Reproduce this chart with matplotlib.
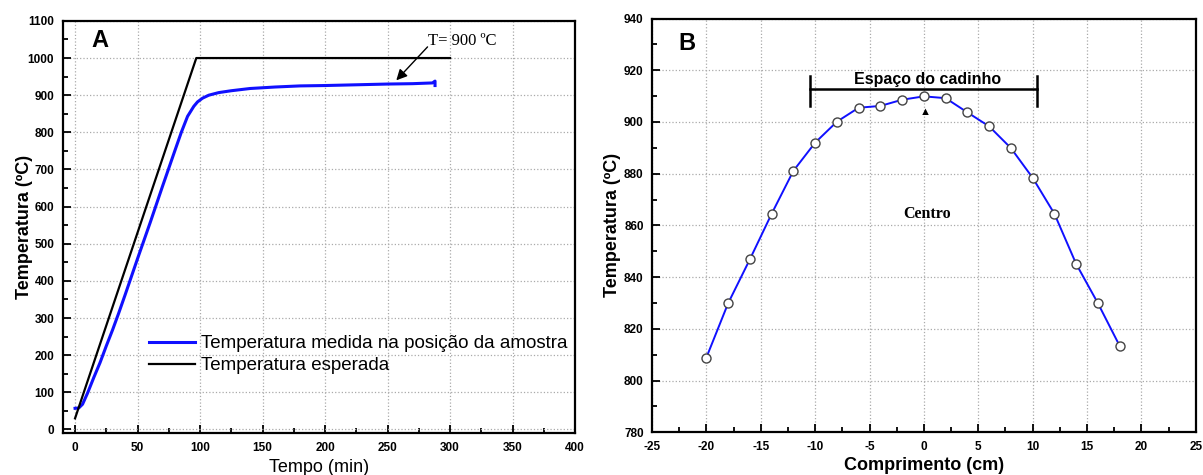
import numpy as np
import matplotlib
matplotlib.use("Agg")
import matplotlib.pyplot as plt
from matplotlib.ticker import MultipleLocator

plt.rcParams['font.family'] = ['Liberation Sans', 'DejaVu Sans']
plt.rcParams['axes.unicode_minus'] = False

# panel A: temperature vs time
t_expected = [0, 97, 300]
T_expected = [30, 1000, 1000]

t_measured = [0, 3, 6, 10, 15, 20, 25, 30, 35, 40, 50, 60, 70, 80, 85, 90, 95,
              98, 102, 107, 115, 125, 140, 160, 180, 200, 225, 250, 270, 286, 288, 288]
T_measured = [57, 58, 68, 98, 140, 180, 225, 268, 314, 362, 460, 556, 655, 752, 800, 843, 870,
              882, 892, 900, 907, 912, 918, 922, 925, 926, 928, 930, 931, 933, 938, 926]

# panel B: temperature profile along the furnace
pos = [-20, -18, -16, -14, -12, -10, -8, -6, -4, -2, 0, 2, 4, 6, 8, 10, 12, 14, 16, 18]
temp = [808.9, 829.9, 846.9, 864.5, 881.1, 892.0, 900.1, 905.5, 906.2, 908.6,
        909.9, 909.2, 903.7, 898.3, 889.9, 878.4, 864.5, 845.1, 829.9, 813.4]

fig = plt.figure(figsize=(12.03, 4.75), dpi=100)
ax1 = fig.add_axes([0.052, 0.088, 0.426, 0.868])
ax2 = fig.add_axes([0.542, 0.090, 0.452, 0.871])


def style(ax):
    for s in ax.spines.values():
        s.set_linewidth(1.6)
    ax.tick_params(which='both', direction='in', top=False, right=False, width=1.3)
    ax.tick_params(which='major', length=6, labelsize=8.5, pad=6)
    ax.tick_params(which='minor', length=3.5)
    for lab in ax.get_xticklabels() + ax.get_yticklabels():
        lab.set_fontweight('bold')
    ax.grid(True, which='major', linestyle=':', color='#aaaaaa', linewidth=0.9)
    ax.set_axisbelow(True)


# ---- A ----
ax1.plot(t_measured, T_measured, color='#1010ff', lw=2.2,
         label='Temperatura medida na posição da amostra')
ax1.plot(t_expected, T_expected, color='black', lw=1.6, label='Temperatura esperada')
ax1.set_xlim(-10, 400)
ax1.set_ylim(-10, 1100)
ax1.xaxis.set_major_locator(MultipleLocator(50))
ax1.xaxis.set_minor_locator(MultipleLocator(25))
ax1.yaxis.set_major_locator(MultipleLocator(100))
ax1.yaxis.set_minor_locator(MultipleLocator(50))
style(ax1)
ax1.set_xlabel('Tempo (min)', fontsize=13, labelpad=4)
ax1.set_ylabel('Temperatura (ºC)', fontsize=13, fontweight='bold', labelpad=-4)
ax1.text(20, 1047, 'A', fontsize=17, fontweight='bold', ha='center', va='center')
ax1.annotate('', xy=(257, 940), xytext=(282, 1030),
             arrowprops=dict(arrowstyle='-|>', color='black', lw=1.0,
                             mutation_scale=16, shrinkA=0, shrinkB=0))
ax1.text(282, 1045, 'T= 900 ºC', fontsize=12, family='Liberation Serif',
         va='center', ha='left')
ax1.legend(loc='lower right', bbox_to_anchor=(1.0, 0.125), frameon=False, fontsize=13.5,
           handlelength=2.5, handletextpad=0.3, labelspacing=0.25, borderaxespad=0.0)

# ---- B ----
ax2.plot(pos, temp, color='#1010ff', lw=1.4, marker='o', markersize=6.5,
         markerfacecolor='white', markeredgecolor='#444444', markeredgewidth=1.0)
ax2.set_xlim(-25, 25)
ax2.set_ylim(780, 940)
ax2.xaxis.set_major_locator(MultipleLocator(5))
ax2.xaxis.set_minor_locator(MultipleLocator(2.5))
ax2.yaxis.set_major_locator(MultipleLocator(20))
ax2.yaxis.set_minor_locator(MultipleLocator(10))
style(ax2)
ax2.set_xlabel('Comprimento (cm)', fontsize=13, fontweight='bold', labelpad=3)
ax2.set_ylabel('Temperatura (ºC)', fontsize=13, fontweight='bold', labelpad=2)
ax2.text(-21.8, 930.5, 'B', fontsize=17, fontweight='bold', ha='center', va='center')

# crucible space bracket
ax2.plot([-10.5, 10.4], [912.6, 912.6], color='black', lw=1.8)
ax2.plot([-10.5, -10.5], [906, 917.8], color='black', lw=1.8)
ax2.plot([10.4, 10.4], [906, 917.8], color='black', lw=1.8)
ax2.text(0.3, 916.5, 'Espaço do cadinho', fontsize=11.5, fontweight='bold',
         ha='center', va='center')
ax2.text(0.1, 903.8, '▲', fontsize=8, ha='center', va='center')
ax2.text(0.3, 864.5, 'Centro', fontsize=11.5, fontweight='bold',
         family='Liberation Serif', ha='center', va='center')

fig.savefig('out.png', dpi=100)
